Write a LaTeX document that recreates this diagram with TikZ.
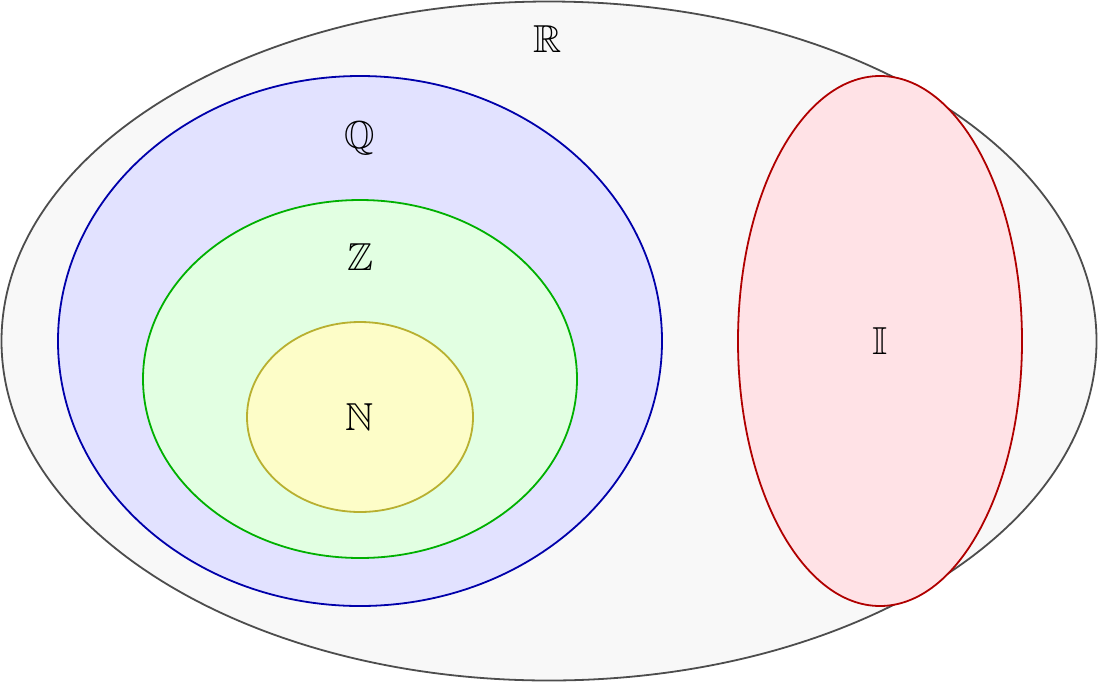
\documentclass[tikz,border=0pt]{standalone}
\usepackage{amssymb}
\definecolor{rline}{HTML}{4D4D4D}
\definecolor{rfill}{HTML}{F8F8F8}
\definecolor{qline}{HTML}{0000AA}
\definecolor{qfill}{HTML}{E2E2FF}
\definecolor{zline}{HTML}{00B000}
\definecolor{zfill}{HTML}{E2FFE2}
\definecolor{nline}{HTML}{B8B030}
\definecolor{nfill}{HTML}{FDFDC8}
\definecolor{iline}{HTML}{B00000}
\definecolor{ifill}{HTML}{FFE2E6}
\tikzset{
  setshape/.style={line width=1.8pt},
  setlabel/.style={inner sep=0pt, font=\fontsize{39}{40}\selectfont}
}
\begin{document}
\begin{tikzpicture}[x=1pt,y=-1pt]
\useasboundingbox (0,0) rectangle (1099,683);
\draw[setshape, draw=rline, fill=rfill] (549,341) ellipse [x radius=547.5, y radius=339.5];
\draw[setshape, draw=qline, fill=qfill] (360,341) ellipse [x radius=302, y radius=265];
\draw[setshape, draw=zline, fill=zfill] (360,379) ellipse [x radius=217, y radius=179];
\draw[setshape, draw=nline, fill=nfill] (360,417) ellipse [x radius=113, y radius=95];
\draw[setshape, draw=iline, fill=ifill] (880,341) ellipse [x radius=142, y radius=265];
\node[setlabel] (R) at (548,39) {$\mathbb{R}$};
\node[setlabel] (Q) at (360,138) {$\mathbb{Q}$};
\node[setlabel] (Z) at (360,257) {$\mathbb{Z}$};
\node[setlabel] (N) at (360,417) {$\mathbb{N}$};
\node[setlabel] (I) at (880,341) {$\mathbb{I}$};
\end{tikzpicture}
\end{document}
